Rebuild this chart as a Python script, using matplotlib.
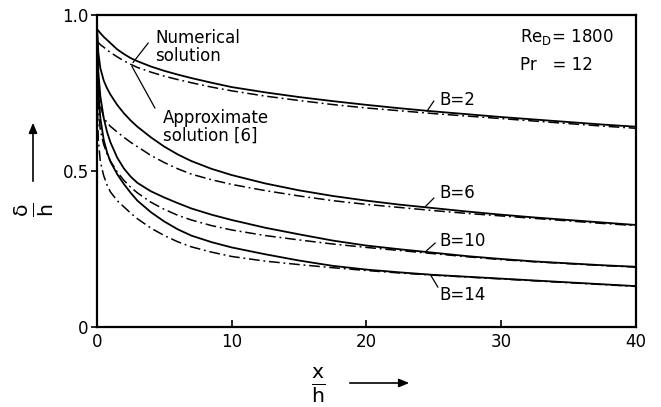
import numpy as np
import matplotlib
matplotlib.use("Agg")
import matplotlib.pyplot as plt

# x/h positions where curves were read
x_read = [0, 0.1, 0.25, 0.5, 0.75, 1, 1.5, 2, 2.5, 3, 4, 5, 6, 7, 8.5, 10,
          12.5, 15, 17.5, 20, 22.5, 25, 27.5, 30, 32.5, 35, 37.5, 40]

# numerical solution (solid), delta/h
num = {
    "B=2":  [0.955, 0.95, 0.942, 0.93, 0.92, 0.91, 0.89, 0.875, 0.862, 0.852, 0.835, 0.821, 0.809, 0.798,
             0.783, 0.769, 0.752, 0.737, 0.724, 0.712, 0.701, 0.691, 0.682, 0.673, 0.665, 0.657, 0.649, 0.642],
    "B=6":  [0.96, 0.88, 0.83, 0.79, 0.765, 0.745, 0.712, 0.685, 0.662, 0.642, 0.608, 0.578, 0.553, 0.532,
             0.507, 0.487, 0.46, 0.438, 0.42, 0.405, 0.392, 0.381, 0.37, 0.36, 0.351, 0.343, 0.335, 0.327],
    "B=10": [0.96, 0.82, 0.74, 0.67, 0.625, 0.592, 0.543, 0.508, 0.482, 0.462, 0.435, 0.415, 0.397, 0.38,
             0.36, 0.343, 0.318, 0.297, 0.277, 0.261, 0.249, 0.238, 0.227, 0.218, 0.21, 0.204, 0.198, 0.193],
    "B=14": [0.96, 0.76, 0.67, 0.6, 0.56, 0.53, 0.49, 0.458, 0.43, 0.405, 0.368, 0.338, 0.313, 0.293,
             0.272, 0.255, 0.233, 0.213, 0.196, 0.184, 0.175, 0.167, 0.161, 0.155, 0.149, 0.143, 0.137, 0.131],
}

# approximate solution [6] (dash-dot)
approx = {
    "B=2":  [0.915, 0.912, 0.905, 0.897, 0.888, 0.88, 0.866, 0.853, 0.842, 0.832, 0.817, 0.804, 0.793, 0.783,
             0.769, 0.757, 0.74, 0.726, 0.713, 0.702, 0.693, 0.684, 0.676, 0.668, 0.66, 0.652, 0.644, 0.637],
    "B=6":  [0.9, 0.78, 0.71, 0.672, 0.655, 0.643, 0.625, 0.608, 0.592, 0.578, 0.55, 0.527, 0.507, 0.49,
             0.472, 0.457, 0.437, 0.42, 0.405, 0.393, 0.383, 0.373, 0.364, 0.356, 0.348, 0.34, 0.332, 0.325],
    "B=10": [0.86, 0.7, 0.63, 0.585, 0.555, 0.532, 0.497, 0.47, 0.448, 0.43, 0.4, 0.377, 0.358, 0.343,
             0.325, 0.311, 0.293, 0.279, 0.266, 0.255, 0.245, 0.235, 0.225, 0.216, 0.209, 0.203, 0.197, 0.192],
    "B=14": [0.76, 0.6, 0.53, 0.485, 0.455, 0.433, 0.405, 0.385, 0.365, 0.347, 0.317, 0.293, 0.273, 0.257,
             0.24, 0.226, 0.211, 0.2, 0.19, 0.181, 0.173, 0.166, 0.16, 0.154, 0.148, 0.142, 0.136, 0.13],
}

label_y = {"B=2": 0.728, "B=6": 0.43, "B=10": 0.276, "B=14": 0.103}
pointer = {
    "B=2": ((25.0, 0.724), (24.5, 0.692)),
    "B=6": ((25.0, 0.413), (24.4, 0.387)),
    "B=10": ((25.1, 0.269), (24.4, 0.242)),
    "B=14": ((25.3, 0.128), (24.8, 0.164)),
}

fig = plt.figure(figsize=(6.61, 4.07), dpi=100)
ax = fig.add_axes([0.1467, 0.1966, 0.8153, 0.7665])

for key in num:
    ax.plot(x_read, num[key], color="black", lw=1.3)
    ax.plot(x_read, approx[key], color="black", lw=1.1, ls=(0, (7, 2.5, 1.2, 2.5)))
    ax.text(25.4, label_y[key], key, fontsize=12, va="center", ha="left")
    (x0, y0), (x1, y1) = pointer[key]
    ax.plot([x0, x1], [y0, y1], color="black", lw=0.9)

ax.text(4.3, 0.955, "Numerical\nsolution", fontsize=12, va="top", ha="left", linespacing=1.0)
ax.plot([3.8, 2.68], [0.91, 0.848], color="black", lw=0.9)
ax.text(4.9, 0.70, "Approximate\nsolution [6]", fontsize=12, va="top", ha="left", linespacing=1.0)
ax.plot([4.3, 2.6], [0.702, 0.835], color="black", lw=0.9)

ax.text(31.4, 0.93, r"Re$_\mathregular{D}$= 1800", fontsize=12, va="center", ha="left")
ax.text(31.4, 0.84, "Pr   = 12", fontsize=12, va="center", ha="left")

ax.set_xlim(0, 40)
ax.set_ylim(0, 1.0)
ax.set_xticks([0, 10, 20, 30, 40])
ax.set_xticklabels(["0", "10", "20", "30", "40"])
ax.set_yticks([0, 0.5, 1.0])
ax.set_yticklabels(["0", "0.5", "1.0"])
ax.tick_params(axis="x", direction="in", length=5, width=1.2, labelsize=12, pad=4)
ax.tick_params(axis="y", direction="out", length=4, width=1.2, labelsize=12, pad=2)
for s in ax.spines.values():
    s.set_linewidth(1.6)

# axis labels as fractions with arrows
fig.text(318 / 661, 1 - 385 / 407, r"$\frac{\mathrm{x}}{\mathrm{h}}$", fontsize=21, ha="center", va="center")
fig.add_artist(matplotlib.patches.FancyArrowPatch(
    (347 / 661, 1 - 383 / 407), (412 / 661, 1 - 383 / 407), transform=fig.transFigure,
    arrowstyle="-|>,head_length=6,head_width=2.5", color="black", lw=1.2))
fig.text(34 / 661, 1 - 210 / 407, r"$\frac{\mathrm{\delta}}{\mathrm{h}}$", fontsize=21,
         ha="center", va="center", rotation=90)
fig.add_artist(matplotlib.patches.FancyArrowPatch(
    (33 / 661, 1 - 184 / 407), (33 / 661, 1 - 120 / 407), transform=fig.transFigure,
    arrowstyle="-|>,head_length=6,head_width=2.5", color="black", lw=1.2))

fig.savefig("out.png", dpi=100)
